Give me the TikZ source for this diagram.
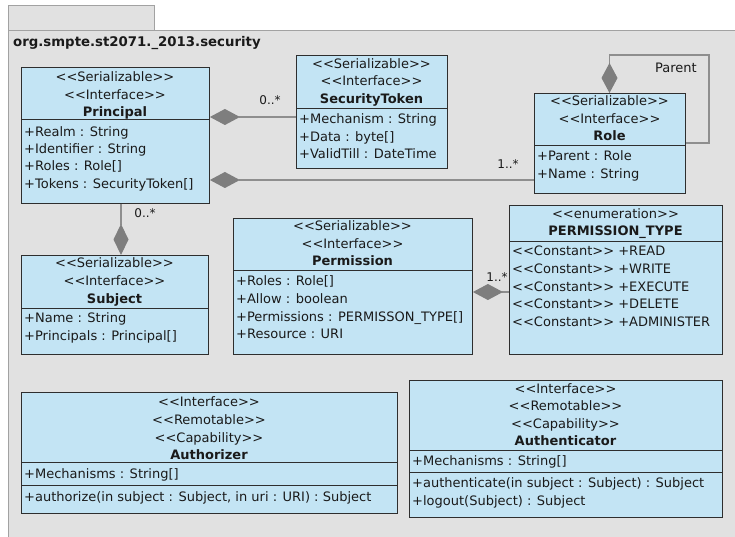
\documentclass[tikz,border=0pt]{standalone}
\usepackage{fontspec}
\newfontfamily\umlfont{DejaVu Sans}
\usetikzlibrary{arrows.meta,calc}
\definecolor{boxfill}{HTML}{C3E4F4}
\definecolor{boxline}{HTML}{2E2E2E}
\definecolor{pkgfill}{HTML}{E1E1E1}
\definecolor{pkgline}{HTML}{A2A2A2}
\definecolor{linegray}{HTML}{8E8E8E}
\definecolor{diagray}{HTML}{7E7E7E}
\definecolor{txt}{HTML}{1A1A1A}
\begin{document}
\begin{tikzpicture}[x=1pt,y=-1pt,
  cls/.style={draw=boxline, fill=boxfill, line width=0.9pt, inner sep=0pt, anchor=north west},
  sepline/.style={draw=boxline, line width=0.9pt},
  st/.style={inner sep=0pt, text=txt, font=\umlfont\fontsize{13}{15}\selectfont, text height=9.5pt, text depth=0pt},
  nm/.style={st, font=\umlfont\bfseries\fontsize{13}{15}\selectfont},
  attr/.style={st, anchor=west},
  mult/.style={st, font=\umlfont\fontsize{12}{14}\selectfont},
  assoc/.style={draw=linegray, line width=1.1pt},
  hdia/.style={{Diamond[length=30pt,width=16pt,fill=diagray,color=diagray]}-}
]
\useasboundingbox (0,0) rectangle (735,537);
\fill[white] (0,0) rectangle (735,537);
% package tab and body
\node[draw=pkgline, fill=pkgfill, line width=1pt, inner sep=0pt, minimum width=146pt, minimum height=25pt, anchor=north west] (tab) at (8,5) {};
\node[draw=pkgline, fill=pkgfill, line width=1pt, inner sep=0pt, minimum width=760pt, minimum height=540pt, anchor=north west] (pkg) at (8,30) {};
\node[st, anchor=west, font=\umlfont\bfseries\fontsize{13.3}{15}\selectfont] (title) at (13,42) {org.smpte.st2071.\_2013.security};

% Principal
\node[cls, minimum width=188pt, minimum height=136pt] (principal) at (21,67) {};
\draw[sepline] ($(principal.north west)+(0,52)$) -- ($(principal.north east)+(0,52)$);
\node[st] (p1) at (115,77) {<<Serializable>>};
\node[st] (p2) at (115,95) {<<Interface>>};
\node[nm] (p3) at (115,112) {Principal};
\node[attr] (p4) at (24,132) {+Realm : String};
\node[attr] (p5) at (24,149) {+Identifier : String};
\node[attr] (p6) at (24,166) {+Roles : Role[]};
\node[attr] (p7) at (24,184) {+Tokens : SecurityToken[]};

% SecurityToken
\node[cls, minimum width=151pt, minimum height=113pt] (sectoken) at (296,55) {};
\draw[sepline] ($(sectoken.north west)+(0,53)$) -- ($(sectoken.north east)+(0,53)$);
\node[st] (s1) at (371.5,64) {<<Serializable>>};
\node[st] (s2) at (371.5,81) {<<Interface>>};
\node[nm] (s3) at (371.5,99) {SecurityToken};
\node[attr] (s4) at (299,119) {+Mechanism : String};
\node[attr] (s5) at (299,137) {+Data : byte[]};
\node[attr] (s6) at (299,154) {+ValidTill : DateTime};

% Role
\node[cls, minimum width=151pt, minimum height=100pt] (role) at (534,93) {};
\draw[sepline] ($(role.north west)+(0,52)$) -- ($(role.north east)+(0,52)$);
\node[st] (r1) at (609.5,101) {<<Serializable>>};
\node[st] (r2) at (609.5,119) {<<Interface>>};
\node[nm] (r3) at (609.5,136) {Role};
\node[attr] (r4) at (537,156) {+Parent : Role};
\node[attr] (r5) at (537,174) {+Name : String};

% Subject
\node[cls, minimum width=187pt, minimum height=99pt] (subject) at (21,255) {};
\draw[sepline] ($(subject.north west)+(0,53)$) -- ($(subject.north east)+(0,53)$);
\node[st] (u1) at (114.5,263) {<<Serializable>>};
\node[st] (u2) at (114.5,281) {<<Interface>>};
\node[nm] (u3) at (114.5,299) {Subject};
\node[attr] (u4) at (24,318) {+Name : String};
\node[attr] (u5) at (24,336) {+Principals : Principal[]};

% Permission
\node[cls, minimum width=239pt, minimum height=136pt] (permission) at (233,218) {};
\draw[sepline] ($(permission.north west)+(0,52)$) -- ($(permission.north east)+(0,52)$);
\node[st] (m1) at (352.5,226) {<<Serializable>>};
\node[st] (m2) at (352.5,244) {<<Interface>>};
\node[nm] (m3) at (352.5,261) {Permission};
\node[attr] (m4) at (236,281) {+Roles : Role[]};
\node[attr] (m5) at (236,299) {+Allow : boolean};
\node[attr] (m6) at (236,317) {+Permissions : PERMISSON\_TYPE[]};
\node[attr] (m7) at (236,334) {+Resource : URI};

% PERMISSION_TYPE
\node[cls, minimum width=213pt, minimum height=149pt] (ptype) at (509,205) {};
\draw[sepline] ($(ptype.north west)+(0,36)$) -- ($(ptype.north east)+(0,36)$);
\node[st] (t1) at (615.5,214) {<<enumeration>>};
\node[nm] (t2) at (615.5,231) {PERMISSION\_TYPE};
\node[attr] (t3) at (512,251) {<<Constant>> +READ};
\node[attr] (t4) at (512,269) {<<Constant>> +WRITE};
\node[attr] (t5) at (512,287) {<<Constant>> +EXECUTE};
\node[attr] (t6) at (512,304) {<<Constant>> +DELETE};
\node[attr] (t7) at (512,322) {<<Constant>> +ADMINISTER};

% Authorizer
\node[cls, minimum width=376pt, minimum height=121pt] (authorizer) at (21,392) {};
\draw[sepline] ($(authorizer.north west)+(0,70)$) -- ($(authorizer.north east)+(0,70)$);
\draw[sepline] ($(authorizer.north west)+(0,93)$) -- ($(authorizer.north east)+(0,93)$);
\node[st] (a1) at (209,402) {<<Interface>>};
\node[st] (a2) at (209,420) {<<Remotable>>};
\node[st] (a3) at (209,438) {<<Capability>>};
\node[nm] (a4) at (209,455) {Authorizer};
\node[attr] (a5) at (24,474) {+Mechanisms : String[]};
\node[attr] (a6) at (24,497) {+authorize(in subject : Subject, in uri : URI) : Subject};

% Authenticator
\node[cls, minimum width=313pt, minimum height=137pt] (authenticator) at (409,380) {};
\draw[sepline] ($(authenticator.north west)+(0,70)$) -- ($(authenticator.north east)+(0,70)$);
\draw[sepline] ($(authenticator.north west)+(0,92)$) -- ($(authenticator.north east)+(0,92)$);
\node[st] (n1) at (565.5,389) {<<Interface>>};
\node[st] (n2) at (565.5,406) {<<Remotable>>};
\node[st] (n3) at (565.5,424) {<<Capability>>};
\node[nm] (n4) at (565.5,441) {Authenticator};
\node[attr] (n5) at (412,461) {+Mechanisms : String[]};
\node[attr] (n6) at (412,483) {+authenticate(in subject : Subject) : Subject};
\node[attr] (n7) at (412,501) {+logout(Subject) : Subject};

% connectors
\draw[assoc, hdia] ($(principal.north east)+(0,50)$) -- ($(sectoken.north west)+(0,62)$);
\node[mult] (l1) at (270,100) {0..*};
\draw[assoc, hdia] ($(principal.north east)+(0,113)$) -- ($(role.north west)+(0,87)$);
\node[mult] (l2) at (508,164) {1..*};
\draw[assoc, -{Diamond[length=31pt,width=15pt,fill=diagray,color=diagray]}] ($(principal.south west)+(100,0)$) -- ($(subject.north west)+(100,0)$);
\node[mult] (l3) at (145,213) {0..*};
\draw[assoc, hdia] ($(permission.north east)+(0,74)$) -- ($(ptype.north west)+(0,87)$);
\node[mult] (l4) at (497,277) {1..*};
\coordinate (c1) at (609.5,55);
\coordinate (c2) at (709,55);
\coordinate (c3) at (709,143);
\draw[assoc, hdia] ($(role.north west)+(75.5,0)$) -- (c1) -- (c2) -- (c3) -- ($(role.north east)+(0,50)$);
\node[mult, font=\umlfont\fontsize{13}{15}\selectfont] (l5) at (676,68) {Parent};
\end{tikzpicture}
\end{document}
